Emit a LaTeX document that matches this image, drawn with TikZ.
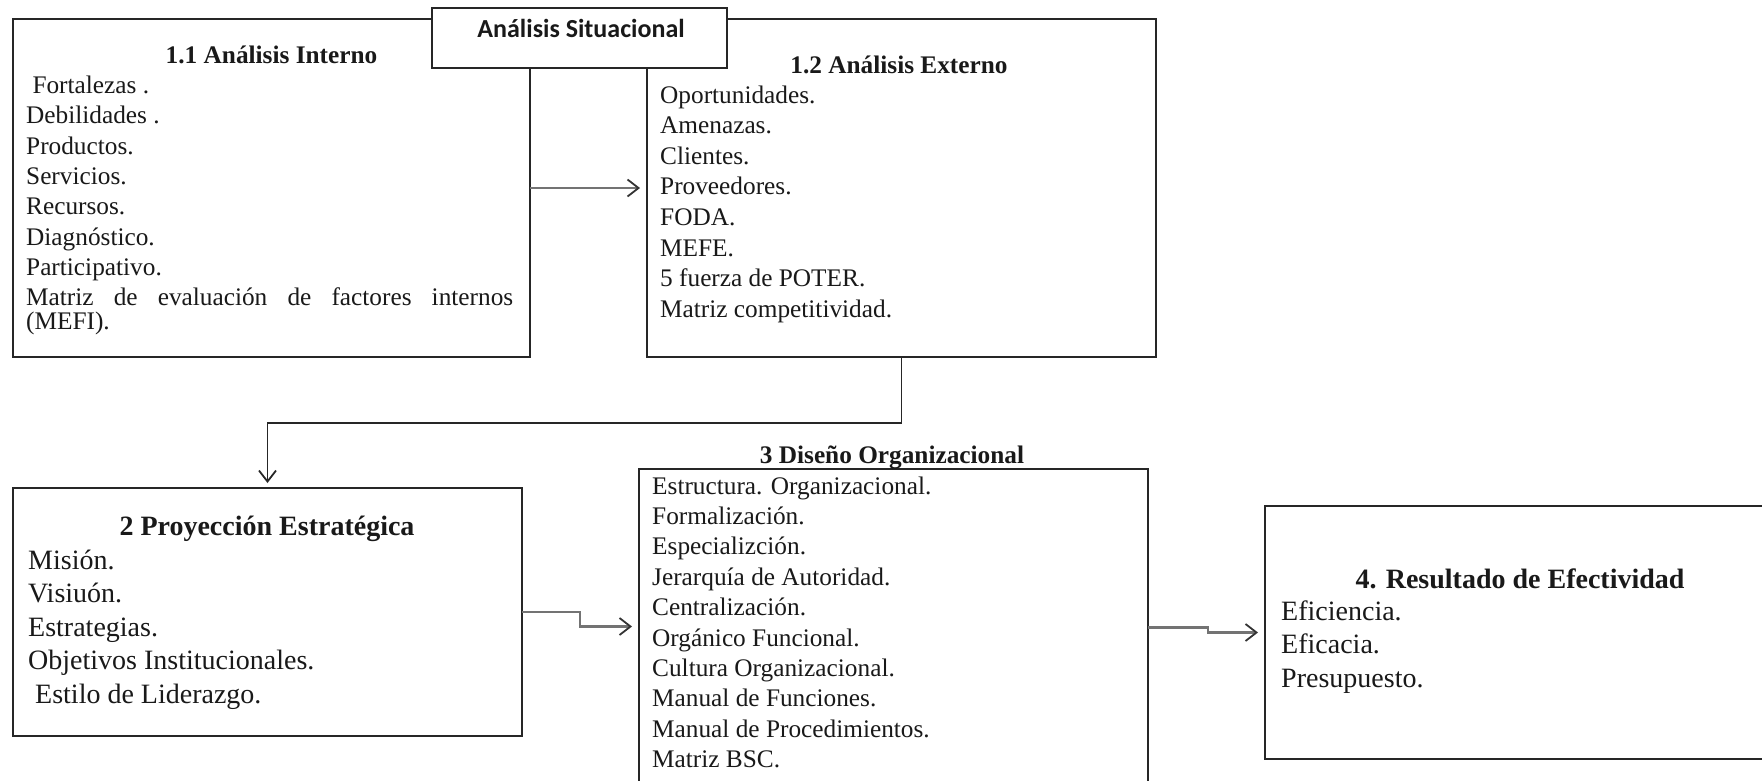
\documentclass[tikz,border=0pt]{standalone}
\usepackage{fontspec}
\setmainfont{Liberation Serif}
\newfontfamily\headsans{Carlito}
\usetikzlibrary{arrows.meta,calc}
\begin{document}
\begin{tikzpicture}[x=1pt,y=-1pt,
  box/.style={draw=black!85, line width=1.8pt, fill=white, inner sep=0pt, outer sep=0pt, rectangle},
  itemA/.style={anchor=base west, inner sep=0pt, text=black!90, font=\fontsize{25.3pt}{30pt}\selectfont},
  itemB/.style={itemA, font=\fontsize{28pt}{33pt}\selectfont},
  headA/.style={anchor=base, inner sep=0pt, text=black!90, font=\fontsize{25.3pt}{30pt}\selectfont\bfseries},
  headB/.style={headA, font=\fontsize{28pt}{33pt}\selectfont\bfseries},
  flow/.style={draw=black!55, line width=2.2pt, -{Straight Barb[length=11pt,width=17pt,line width=1.8pt,color=black!80]}},
  link/.style={draw=black!85, line width=1.8pt, -{Straight Barb[length=11pt,width=17pt,line width=1.8pt]}}
]
\useasboundingbox (0,0) rectangle (1762,780);

% --- 1.1 Análisis Interno ---
\node[box, minimum width=517pt, minimum height=338pt] (b11) at (271.5,188) {};
\node[headA] (t11) at (271.5,63) {1.1 Análisis Interno};
\foreach \txt [count=\k from 0] in {{\ Fortalezas .},{Debilidades .},Productos.,Servicios.,Recursos.,Diagnóstico.,Participativo.}
  \node[itemA] (i11-\k) at (26,93.5+30.3*\k) {\txt};
\node[itemA] (i11-m) at (26,305.6) {\makebox[487pt][s]{Matriz de evaluación de factores internos}};
\node[itemA] (i11-n) at (26,329) {(MEFI).};

% --- 1.2 Análisis Externo ---
\node[box, minimum width=509pt, minimum height=338pt] (b12) at (901.5,188) {};
\node[headA] (t12) at (899,73) {1.2 Análisis Externo};
\foreach \txt [count=\k from 0] in {Oportunidades.,Amenazas.,Clientes.,Proveedores.,FODA.,MEFE.,5 fuerza de POTER.,Matriz competitividad.}
  \node[itemA] (i12-\k) at (660,103+30.6*\k) {\txt};

% --- heading box over both analyses ---
\node[box, minimum width=295pt, minimum height=60pt] (sit) at (579.5,38) {};
\node[anchor=base, inner sep=0pt, text=black!90, font=\headsans\bfseries\fontsize{26pt}{30pt}\selectfont] (sitlabel) at (581,37) {Análisis Situacional};

% --- 2 Proyección Estratégica ---
\node[box, minimum width=509pt, minimum height=248pt] (b2) at (267.5,612) {};
\node[headB] (t2) at (267,535) {2 Proyección Estratégica};
\foreach \txt [count=\k from 0] in {Misión.,Visiuón.,Estrategias.,Objetivos Institucionales.,{\ Estilo de Liderazgo.}}
  \node[itemB] (i2-\k) at (28,569+33.5*\k) {\txt};

% --- 3 Diseño Organizacional ---
\node[box, minimum width=509pt, minimum height=321pt] (b3) at (893.5,629.5) {};
\node[headA] (t3) at (892,463) {3 Diseño Organizacional};
\foreach \txt [count=\k from 0] in {Estructura. Organizacional.,Formalización.,Especializción.,Jerarquía de Autoridad.,Centralización.,Orgánico Funcional.,Cultura Organizacional.,Manual de Funciones.,Manual de Procedimientos.,Matriz BSC.}
  \node[itemA] (i3-\k) at (652,494+30.4*\k) {\txt};

% --- 4. Resultado de Efectividad ---
\node[box, minimum width=515pt, minimum height=253pt] (b4) at (1522.5,632.5) {};
\node[headB] (t4) at (1520,588) {4. Resultado de Efectividad};
\foreach \txt [count=\k from 0] in {Eficiencia.,Eficacia.,Presupuesto.}
  \node[itemB] (i4-\k) at (1281,620+33.5*\k) {\txt};

% --- connectors ---
\draw[flow, shorten >=7pt] (b11.east) -- (b12.west);
\draw[link, shorten >=5pt] (b12.south) -- ++(0,66) -| (b2.north);
\draw[flow, shorten >=7pt] (b2.east) -- ++(58,0) |- ([yshift=3pt]b3.west);
\draw[flow, shorten >=7pt] ([yshift=2pt]b3.east) -- ++(60,0) |- (b4.west);
\end{tikzpicture}
\end{document}
